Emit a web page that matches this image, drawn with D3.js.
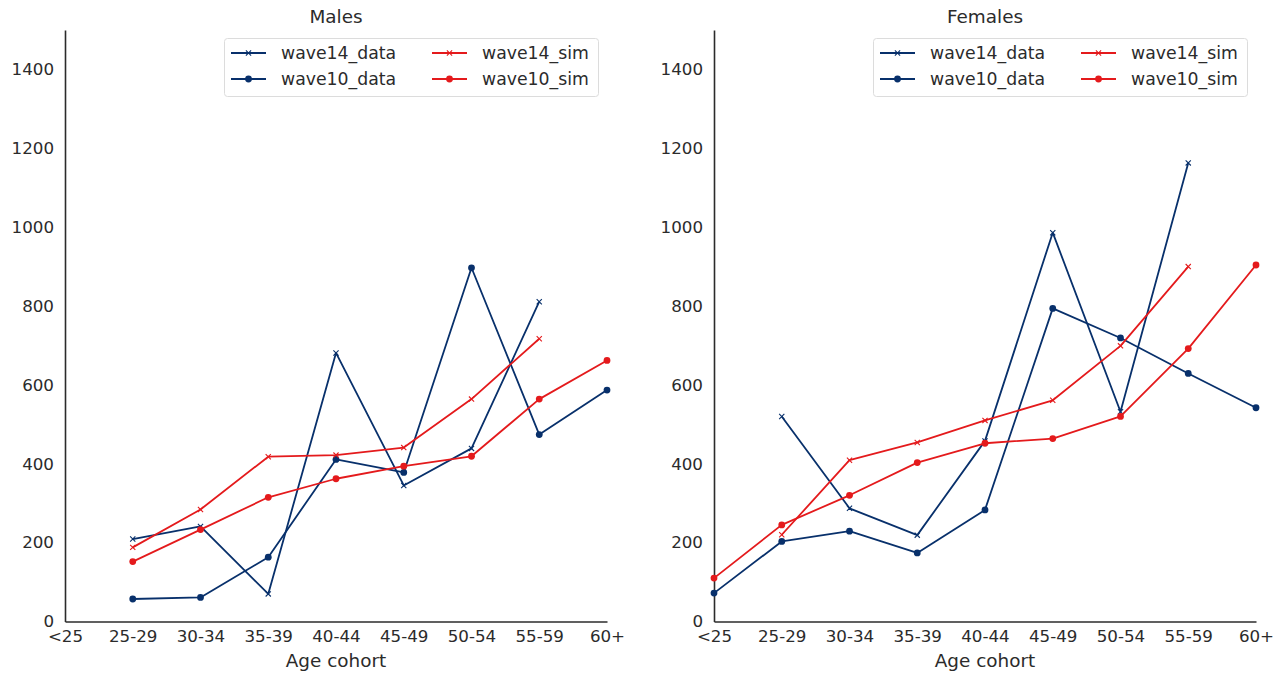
<!DOCTYPE html>
<html>
<head>
<meta charset="utf-8">
<script src="https://cdn.jsdelivr.net/npm/d3@7"></script>
<style>
  body { margin: 0; background: #fff; }
  svg { display: block; font-family: "DejaVu Sans", sans-serif; }
</style>
</head>
<body>
<svg id="chart" width="1281" height="675"></svg>
<script>
const categories = ["<25", "25-29", "30-34", "35-39", "40-44", "45-49", "50-54", "55-59", "60+"];
const yTicks = [0, 200, 400, 600, 800, 1000, 1200, 1400];
const seriesNames = ["wave14_data", "wave10_data", "wave14_sim", "wave10_sim"];

// Males
const malesWave14Data = [null, 209, 241, 70, 681, 345, 439, 811, null];
const malesWave10Data = [null, 57, 61, 163, 411, 378, 897, 474, 587];
const malesWave14Sim  = [null, 188, 284, 418, 422, 441, 564, 717, null];
const malesWave10Sim  = [null, 152, 233, 315, 362, 394, 419, 564, 662];

// Females
const femalesWave14Data = [null, 520, 287, 219, 458, 986, 532, 1163, null];
const femalesWave10Data = [72, 203, 229, 174, 283, 794, 719, 629, 542];
const femalesWave14Sim  = [null, 220, 409, 454, 510, 561, 699, 900, null];
const femalesWave10Sim  = [110, 245, 320, 403, 452, 464, 520, 692, 904];

const panels = [
  { title: "Males", left: 65, series: [malesWave14Data, malesWave10Data, malesWave14Sim, malesWave10Sim] },
  { title: "Females", left: 714, series: [femalesWave14Data, femalesWave10Data, femalesWave14Sim, femalesWave10Sim] }
];

const NAVY = "#08306b";
const RED = "#e41a1c";
const TXT = "#2b2b2b";
const styles = [
  { color: NAVY, marker: "x" },
  { color: NAVY, marker: "o" },
  { color: RED, marker: "x" },
  { color: RED, marker: "o" }
];

const plotW = 542, plotTop = 30, plotBottom = 621.5;
const fsTick = "16.7px", fsLegend = "17.3px", fsLabel = "18.4px";
const svg = d3.select("#chart");

function drawMarker(g, type, x, y, color) {
  if (type === "o") {
    g.append("circle").attr("cx", x).attr("cy", y).attr("r", 3.4).attr("fill", color);
  } else {
    const s = 2.6;
    g.append("path")
      .attr("d", `M${x - s},${y - s}L${x + s},${y + s}M${x - s},${y + s}L${x + s},${y - s}`)
      .attr("stroke", color).attr("stroke-width", 1.1).attr("fill", "none");
  }
}

panels.forEach(p => {
  const x = d3.scalePoint().domain(categories).range([p.left, p.left + plotW]);
  const y = d3.scaleLinear().domain([0, 1500]).range([plotBottom, plotTop]);
  const g = svg.append("g");

  const xAxis = g.append("g").attr("transform", `translate(0,${plotBottom})`)
    .call(d3.axisBottom(x).tickSize(0).tickPadding(5));
  const yAxis = g.append("g").attr("transform", `translate(${p.left},0)`)
    .call(d3.axisLeft(y).tickValues(yTicks).tickFormat(d3.format("d")).tickSize(0).tickPadding(11));
  [xAxis, yAxis].forEach(a => {
    a.select(".domain").attr("stroke", TXT).attr("stroke-width", 1.6);
    a.selectAll("text").attr("fill", TXT).style("font-size", fsTick).style("font-family", "DejaVu Sans");
  });
  xAxis.selectAll("text").attr("dy", "0.95em");

  p.series.forEach((vals, i) => {
    const st = styles[i];
    const pts = categories.map((c, j) => ({ c, v: vals[j] })).filter(d => d.v !== null);
    const line = d3.line().x(d => x(d.c)).y(d => y(d.v));
    g.append("path").datum(pts).attr("d", line)
      .attr("fill", "none").attr("stroke", st.color).attr("stroke-width", 1.8)
      .attr("stroke-linejoin", "round");
    pts.forEach(d => drawMarker(g, st.marker, x(d.c), y(d.v), st.color));
  });

  g.append("text").attr("x", p.left + plotW / 2).attr("y", 23)
    .attr("text-anchor", "middle").attr("fill", TXT).style("font-size", fsLabel).text(p.title);
  g.append("text").attr("x", p.left + plotW / 2).attr("y", 667)
    .attr("text-anchor", "middle").attr("fill", TXT).style("font-size", fsLabel).text("Age cohort");

  const lx = p.left + 159, ly = 38;
  g.append("rect").attr("x", lx + 0.5).attr("y", ly + 0.5).attr("width", 374).attr("height", 58)
    .attr("rx", 3).attr("fill", "#fff").attr("fill-opacity", 0.8).attr("stroke", "#dcdcdc").attr("stroke-width", 1);
  const cols = [0, 201];
  seriesNames.forEach((name, i) => {
    const col = Math.floor(i / 2), row = i % 2;
    const x0 = lx + 7 + cols[col], yy = ly + 15 + row * 26;
    g.append("line").attr("x1", x0).attr("x2", x0 + 35).attr("y1", yy).attr("y2", yy)
      .attr("stroke", styles[i].color).attr("stroke-width", 1.8);
    drawMarker(g, styles[i].marker, x0 + 17.5, yy, styles[i].color);
    g.append("text").attr("x", x0 + 50).attr("y", yy).attr("dy", "0.35em")
      .attr("fill", TXT).style("font-size", fsLegend).text(name);
  });
});
</script>
</body>
</html>
